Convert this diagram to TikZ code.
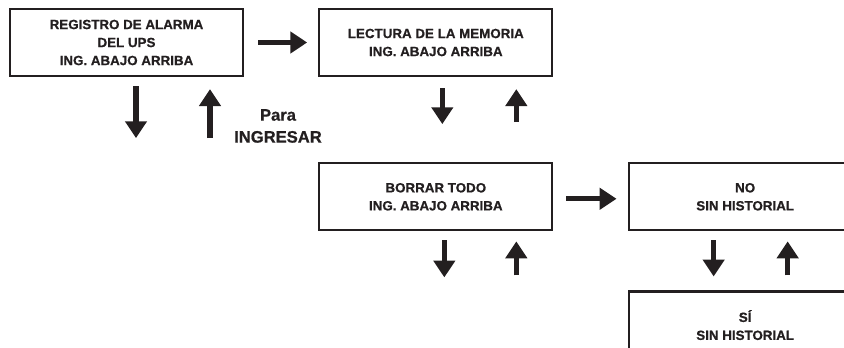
\documentclass[tikz,border=0pt]{standalone}
\usepackage{fontspec}
\setmainfont{Liberation Sans}[BoldFeatures={FakeBold=0.8}]
\usetikzlibrary{arrows.meta, positioning, calc}
\definecolor{tinta}{RGB}{35,31,32}

\tikzset{
  caja/.style={draw=tinta, line width=1.6pt, minimum width=5.825cm, minimum height=1.675cm,
    align=center, text=tinta, font=\bfseries\fontsize{9.5}{12.8}\selectfont,
    execute at begin node={\rule{0pt}{12.8pt}}},
  rotulo/.style={align=center, text=tinta, font=\bfseries\fontsize{11.8}{15.6}\selectfont},
  flecha/.style={draw=tinta, line width=3.6pt, -{Triangle[length=12pt, width=15pt]}},
}

\begin{document}
\begin{tikzpicture}[x=0.025cm, y=-0.025cm]
  \clip (0,0) rectangle (844,348);

  % cajas del menú
  \node[caja] (registro) at (126.5,42.5) {REGISTRO DE ALARMA\\DEL UPS\\ING. ABAJO ARRIBA};
  \node[caja, right=1.85cm of registro] (lectura) {LECTURA DE LA MEMORIA\\ING. ABAJO ARRIBA};
  \node[caja, below=2.125cm of lectura] (borrar) {BORRAR TODO\\ING. ABAJO ARRIBA};
  \node[caja, right=1.85cm of borrar] (no) {NO\\SIN HISTORIAL};
  \node[caja, below=1.475cm of no] (si) {SÍ\\SIN HISTORIAL};

  % flechas hacia la derecha
  \draw[flecha] ($(registro.east)+(14,0)$) -- ($(lectura.west)+(-11,0)$);
  \draw[flecha] ($(borrar.east)+(13,2)$) -- ($(no.west)+(-11,2)$);

  % abajo / arriba
  \draw[flecha] ($(registro.south)+(9.5,9)$) -- ++(0,52);
  \draw[flecha] ($(registro.south)+(83.5,61)$) -- ++(0,-49);
  \node[rotulo] (ingresar) at (278,126) {Para\\INGRESAR};

  \draw[flecha] ($(lectura.south)+(6.5,11)$) -- ++(0,36);
  \draw[flecha] ($(lectura.south)+(80.5,45)$) -- ++(0,-33);

  \draw[flecha] ($(borrar.south)+(8.5,9)$) -- ++(0,37);
  \draw[flecha] ($(borrar.south)+(80.5,44)$) -- ++(0,-34);

  \draw[flecha] ($(no.south)+(-31.5,9)$) -- ($(si.north)+(-31.5,-14)$);
  \draw[flecha] ($(si.north)+(42.5,-15)$) -- ($(no.south)+(42.5,10)$);
\end{tikzpicture}
\end{document}
